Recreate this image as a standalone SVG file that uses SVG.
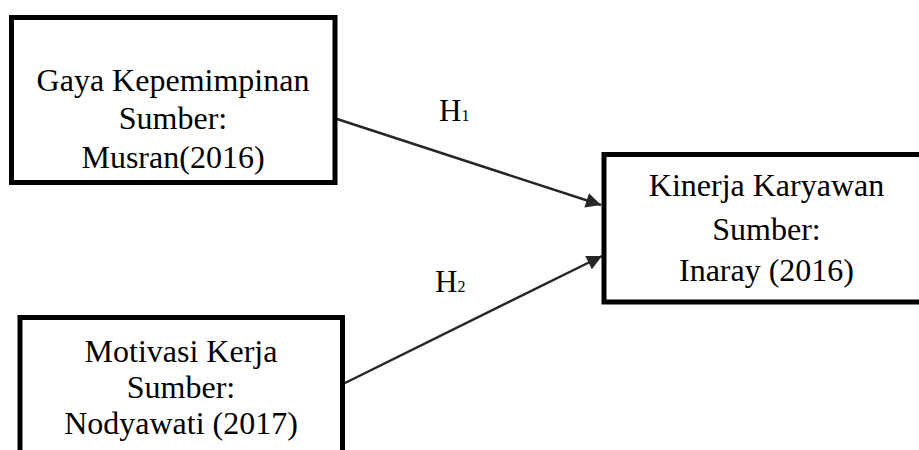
<svg xmlns="http://www.w3.org/2000/svg" width="919" height="450" viewBox="0 0 919 450">
<style>
.box{fill:#fff;stroke:#000;stroke-width:5}
.t{font-family:"Liberation Serif","Times New Roman",serif;font-size:32px;fill:#000;text-anchor:middle}
.lbl{font-family:"Liberation Serif","Times New Roman",serif;font-size:31px;fill:#000}
.sub{font-size:16px}
.edge{stroke:#262626;stroke-width:2.5;fill:none}
</style>
<defs>
<marker id="arr" viewBox="0 0 10 10" refX="10" refY="5" markerWidth="7" markerHeight="6" orient="auto" markerUnits="strokeWidth">
<path d="M0,0 L10,5 L0,10 Z" fill="#262626"/>
</marker>
</defs>
<rect width="919" height="450" fill="#fff"/>
<g id="connectors">
<line class="edge" x1="337" y1="119" x2="601" y2="205" marker-end="url(#arr)"/>
<line class="edge" x1="343" y1="384" x2="602" y2="256" marker-end="url(#arr)"/>
<text class="lbl" x="439" y="121">H<tspan class="sub">1</tspan></text>
<text class="lbl" x="435" y="292">H<tspan class="sub">2</tspan></text>
</g>
<g id="gaya">
<rect class="box" x="11.5" y="17.5" width="323.5" height="165"/>
<text class="t" x="173" y="90.5">Gaya Kepemimpinan</text>
<text class="t" x="173" y="129">Sumber:</text>
<text class="t" x="173" y="167.5">Musran(2016)</text>
</g>
<g id="kinerja">
<rect class="box" x="604" y="154.5" width="330" height="147.5"/>
<text class="t" x="766.5" y="195.5">Kinerja Karyawan</text>
<text class="t" x="766.5" y="239.5">Sumber:</text>
<text class="t" x="766.5" y="281">Inaray (2016)</text>
</g>
<g id="motivasi">
<rect class="box" x="20" y="317.5" width="322.5" height="150"/>
<text class="t" x="181" y="362">Motivasi Kerja</text>
<text class="t" x="181" y="398">Sumber:</text>
<text class="t" x="181" y="434">Nodyawati (2017)</text>
</g>
</svg>
